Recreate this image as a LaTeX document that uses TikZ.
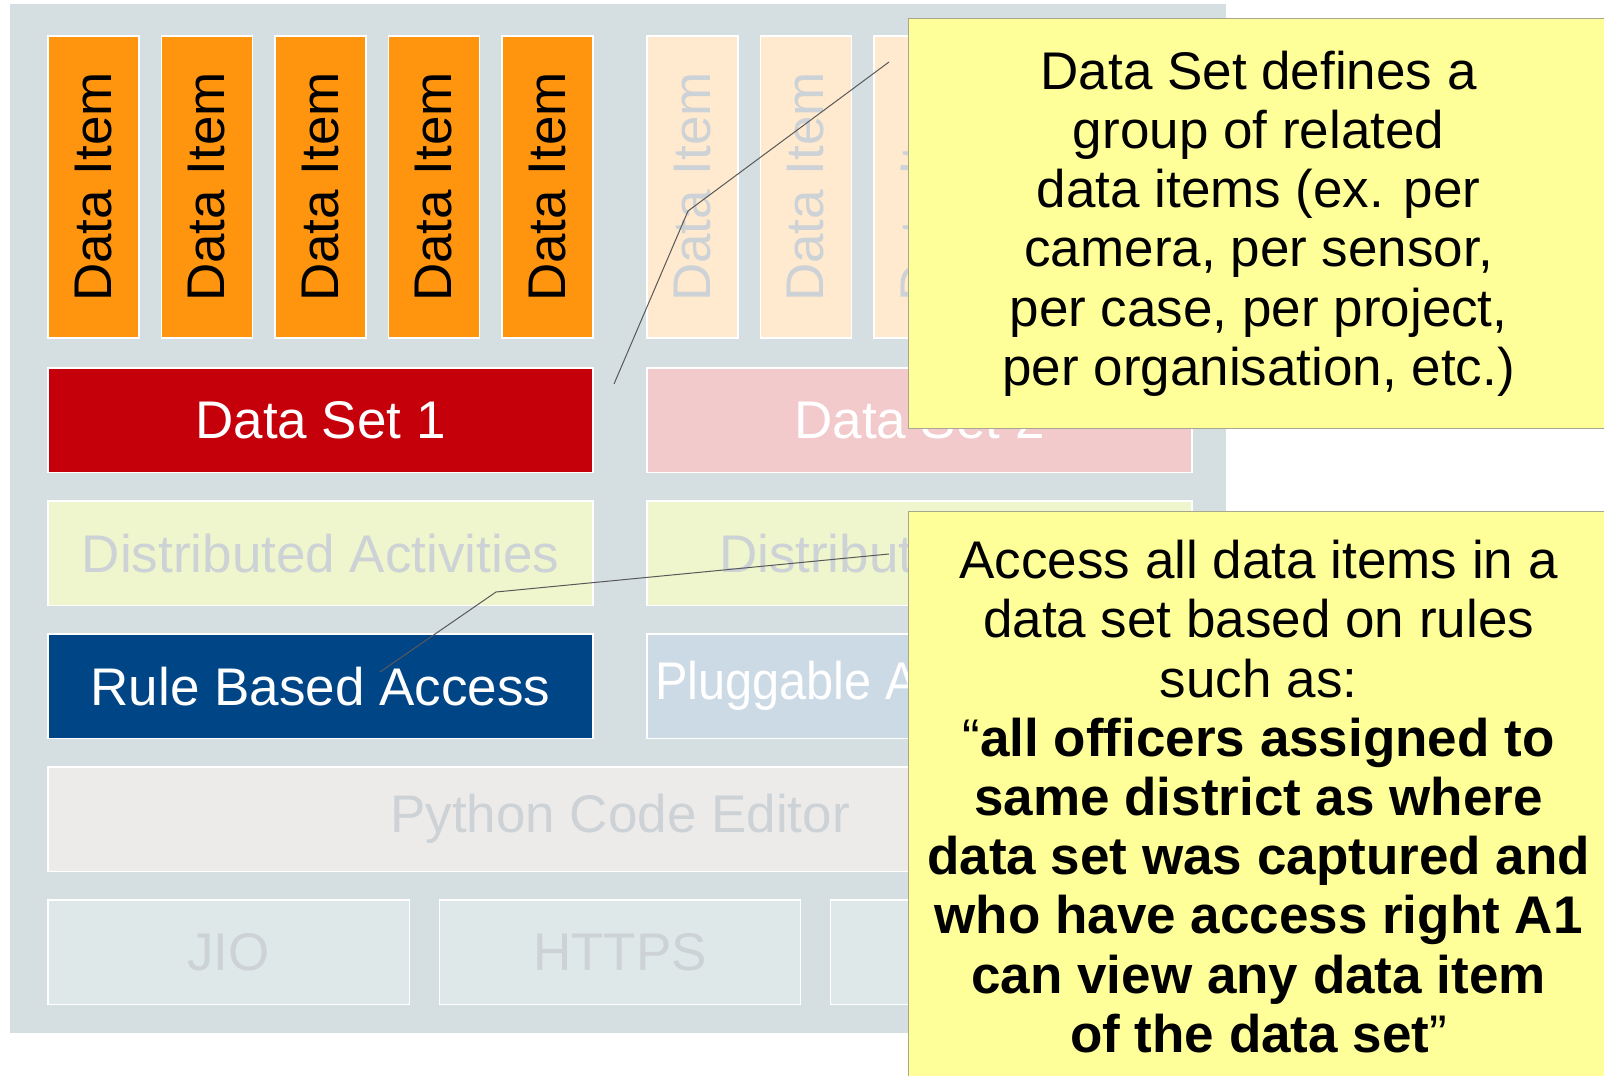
\documentclass[tikz,border=0pt]{standalone}
\usepackage{fontspec}
\setmainfont{Liberation Sans}
\usepackage{graphicx}
\usepackage{tikz}
\usetikzlibrary{positioning}
\usepackage{xcolor}
\definecolor{Panel}{HTML}{D5DFE1}
\definecolor{ItemOrange}{HTML}{FF950E}
\definecolor{SetRed}{HTML}{C5000B}
\definecolor{AccessBlue}{HTML}{004586}
\definecolor{NoteYellow}{HTML}{FFFF99}
\definecolor{NoteEdge}{HTML}{A8A890}
\definecolor{FadeOrange}{HTML}{FFEACF}
\definecolor{FadeRed}{HTML}{F2CACC}
\definecolor{FadeGreen}{HTML}{EFF5CC}
\definecolor{FadeBlue}{HTML}{CCDAE6}
\definecolor{FadeGray}{HTML}{ECEBEA}
\definecolor{FadeTeal}{HTML}{DEE8E8}
\definecolor{FadeText}{HTML}{CDD2D6}

\begin{document}
\begin{tikzpicture}[
    x=0.5pt, y=-0.5pt,
    % Global Styles
    font=\fontsize{26.5}{29.6}\selectfont,
    % Styles for the boxes of the stack
    box/.style={
        rectangle,
        draw=white,
        line width=0.75pt,
        outer sep=0pt,
        inner sep=0pt,
        align=center
    },
    dataitem/.style={
        box,
        fill=ItemOrange,
        minimum width=45.5pt,
        minimum height=151pt
    },
    fadeditem/.style={
        dataitem,
        fill=FadeOrange,
        text=FadeText
    },
    dataset/.style={
        box,
        fill=SetRed,
        text=white,
        minimum width=272.5pt,
        minimum height=52.25pt
    },
    fadedset/.style={
        dataset,
        fill=FadeRed
    },
    activity/.style={
        dataset,
        fill=FadeGreen,
        text=FadeText
    },
    access/.style={
        dataset,
        fill=AccessBlue
    },
    fadedaccess/.style={
        dataset,
        fill=FadeBlue
    },
    editor/.style={
        box,
        fill=FadeGray,
        text=FadeText,
        minimum width=572pt,
        minimum height=52.25pt
    },
    transport/.style={
        box,
        fill=FadeTeal,
        text=FadeText,
        minimum width=180.67pt,
        minimum height=52.25pt
    },
    % Yellow callouts
    note/.style={
        rectangle,
        draw=NoteEdge,
        fill=NoteYellow,
        line width=0.6pt,
        anchor=north west,
        minimum width=350pt,
        align=center
    },
    % Leader line style
    leader/.style={
        draw=black!65,
        line width=0.5pt,
        line join=miter
    }
]

    % --- Background ---
    \useasboundingbox (0,0) rectangle (1604,1075);
    \node[rectangle, fill=Panel, anchor=north west, minimum width=608pt,
          minimum height=514.5pt, inner sep=0pt] (stack) at (10,4) {};

    % --- Nodes ---

    % 1. Data items of the first set
    \node[dataitem, anchor=north west] (item1) at (48,36) {\rotatebox{90}{Data Item}};
    \node[dataitem, right=11.25pt of item1] (item2) {\rotatebox{90}{Data Item}};
    \node[dataitem, right=11.25pt of item2] (item3) {\rotatebox{90}{Data Item}};
    \node[dataitem, right=11.25pt of item3] (item4) {\rotatebox{90}{Data Item}};
    \node[dataitem, right=11.25pt of item4] (item5) {\rotatebox{90}{Data Item}};

    % 2. Data items of the second set (faded)
    \node[fadeditem, right=27pt of item5] (fitem1) {\rotatebox{90}{Data Item}};
    \node[fadeditem, right=11.25pt of fitem1] (fitem2) {\rotatebox{90}{Data Item}};
    \node[fadeditem, right=11.25pt of fitem2] (fitem3) {\rotatebox{90}{Data Item}};
    \node[fadeditem, right=11.25pt of fitem3] (fitem4) {\rotatebox{90}{Data Item}};
    \node[fadeditem, right=11.25pt of fitem4] (fitem5) {\rotatebox{90}{Data Item}};

    % 3. Data sets
    \node[dataset, below right=15pt and 0pt of item1.south west] (set1) {Data Set 1};
    \node[fadedset, below right=15pt and 0pt of fitem1.south west] (set2) {Data Set 2};

    % 4. Distributed activities
    \node[activity, below=14.25pt of set1] (dist1) {Distributed Activities};
    \node[activity, below=14.25pt of set2] (dist2) {\makebox[200.5pt][l]{Distributed Activities}};

    % 5. Access
    \node[access, below=14.25pt of dist1] (rule) {Rule Based Access};
    \node[fadedaccess, below=14.25pt of dist2] (plug) {\makebox[264.5pt][l]{\scalebox{0.92}[1]{Pluggable Access}}};

    % 6. Editor
    \node[editor, below right=14.25pt and 0pt of rule.south west] (python) {Python Code Editor};

    % 7. Transports
    \node[transport, below right=14.25pt and 0pt of python.south west] (jio) {JIO};
    \node[transport, right=15pt of jio] (https) {HTTPS};
    \node[transport, right=15pt of https] (other) {};

    % --- Leaders ---
    \coordinate (setTip) at (614,384);
    \coordinate (setBend) at (688,211);
    \coordinate (setEnd) at (889,62);
    \coordinate (ruleTip) at (380,672);
    \coordinate (ruleBend) at (496,592);
    \coordinate (ruleEnd) at (889,554);

    \draw[leader] (setTip) -- (setBend) -- (setEnd);
    \draw[leader] (ruleTip) -- (ruleBend) -- (ruleEnd);

    % --- Callouts ---
    \node[note, minimum height=205pt] (setNote) at (908,18) {%
        \rule{0pt}{5pt}Data Set defines a\\
        group of related\\
        data items (ex. per\\
        camera, per sensor,\\
        per case, per project,\\
        per organisation, etc.)};

    \node[note, minimum height=285pt] (ruleNote) at (908,511) {%
        Access all data items in a\\
        data set based on rules\\
        such as:\\
        “\textbf{all officers assigned to}\\
        \textbf{same district as where}\\
        \textbf{data set was captured and}\\
        \textbf{who have access right A1}\\
        \textbf{can view any data item}\\
        \textbf{of the data set}”};

\end{tikzpicture}
\end{document}
